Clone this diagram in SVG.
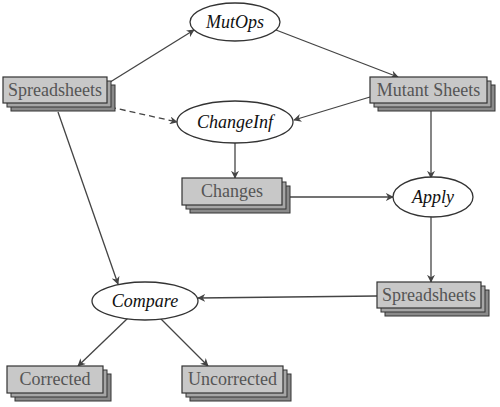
<svg xmlns="http://www.w3.org/2000/svg" width="500" height="407" viewBox="0 0 500 407">
<style>
.b3{fill:#8a8a8a;stroke:#333;stroke-width:1}
.b2{fill:#a6a6a6;stroke:#333;stroke-width:1}
.b1{fill:#c8c8c8;stroke:#333;stroke-width:1.2}
.bt{font-family:'Liberation Serif','DejaVu Serif',serif;font-size:18px;fill:#555;text-anchor:middle}
.el{fill:#fff;stroke:#333;stroke-width:1.3}
.et{font-family:'Liberation Serif','DejaVu Serif',serif;font-size:18px;font-style:italic;fill:#111;text-anchor:middle}
.c{fill:none;stroke:#444;stroke-width:1.3;marker-end:url(#ah)}
</style>
<defs>
<marker id="ah" viewBox="0 0 10 10" refX="9" refY="5" markerWidth="8" markerHeight="8" markerUnits="userSpaceOnUse" orient="auto">
<path d="M0,0 L10,5 L0,10 L3,5 z" fill="#444"/>
</marker>
</defs>
<g id="connectors">
<line class="c" x1="107" y1="84" x2="194" y2="30"/>
<line class="c" x1="276" y1="30" x2="398" y2="77"/>
<line class="c" x1="110" y1="107" x2="177" y2="122" stroke-dasharray="6,4"/>
<line class="c" x1="370" y1="97" x2="294" y2="120"/>
<line class="c" x1="235" y1="143" x2="235" y2="178"/>
<line class="c" x1="431" y1="111" x2="431" y2="178"/>
<line class="c" x1="290" y1="197" x2="393" y2="197"/>
<line class="c" x1="431" y1="217" x2="431" y2="282"/>
<line class="c" x1="377" y1="296" x2="198" y2="298"/>
<line class="c" x1="58" y1="112" x2="118" y2="284"/>
<line class="c" x1="128" y1="318" x2="78" y2="366"/>
<line class="c" x1="160" y1="318" x2="208" y2="366"/>
</g>
<g id="spreadsheets1" font-family="Liberation Serif, serif">
<rect class="b3" x="11" y="85" width="104" height="26"/>
<rect class="b2" x="7" y="81" width="104" height="26"/>
<rect class="b1" x="3" y="77" width="104" height="26"/>
<text class="bt" x="55" y="96">Spreadsheets</text>
</g>
<g id="mutops">
<ellipse class="el" cx="235" cy="22" rx="45" ry="19"/>
<text class="et" x="235" y="28">MutOps</text>
</g>
<g id="mutantsheets">
<rect class="b3" x="378" y="85" width="117" height="26"/>
<rect class="b2" x="374" y="81" width="117" height="26"/>
<rect class="b1" x="370" y="77" width="117" height="26"/>
<text class="bt" x="428.5" y="96">Mutant Sheets</text>
</g>
<g id="changeinf">
<ellipse class="el" cx="235" cy="122" rx="58" ry="21"/>
<text class="et" x="235" y="128">ChangeInf</text>
</g>
<g id="changes">
<rect class="b3" x="190" y="186" width="100" height="27"/>
<rect class="b2" x="186" y="182" width="100" height="27"/>
<rect class="b1" x="182" y="178" width="100" height="27"/>
<text class="bt" x="232" y="197">Changes</text>
</g>
<g id="apply">
<ellipse class="el" cx="433" cy="197" rx="40" ry="20"/>
<text class="et" x="433" y="203">Apply</text>
</g>
<g id="spreadsheets2">
<rect class="b3" x="385" y="290" width="104" height="26"/>
<rect class="b2" x="381" y="286" width="104" height="26"/>
<rect class="b1" x="377" y="282" width="104" height="26"/>
<text class="bt" x="429" y="301">Spreadsheets</text>
</g>
<g id="compare">
<ellipse class="el" cx="145" cy="301" rx="53" ry="19"/>
<text class="et" x="145" y="307">Compare</text>
</g>
<g id="corrected">
<rect class="b3" x="15" y="374" width="96" height="27"/>
<rect class="b2" x="11" y="370" width="96" height="27"/>
<rect class="b1" x="7" y="366" width="96" height="27"/>
<text class="bt" x="55" y="385">Corrected</text>
</g>
<g id="uncorrected">
<rect class="b3" x="190" y="374" width="101" height="27"/>
<rect class="b2" x="186" y="370" width="101" height="27"/>
<rect class="b1" x="182" y="366" width="101" height="27"/>
<text class="bt" x="232.5" y="385">Uncorrected</text>
</g>
</svg>
